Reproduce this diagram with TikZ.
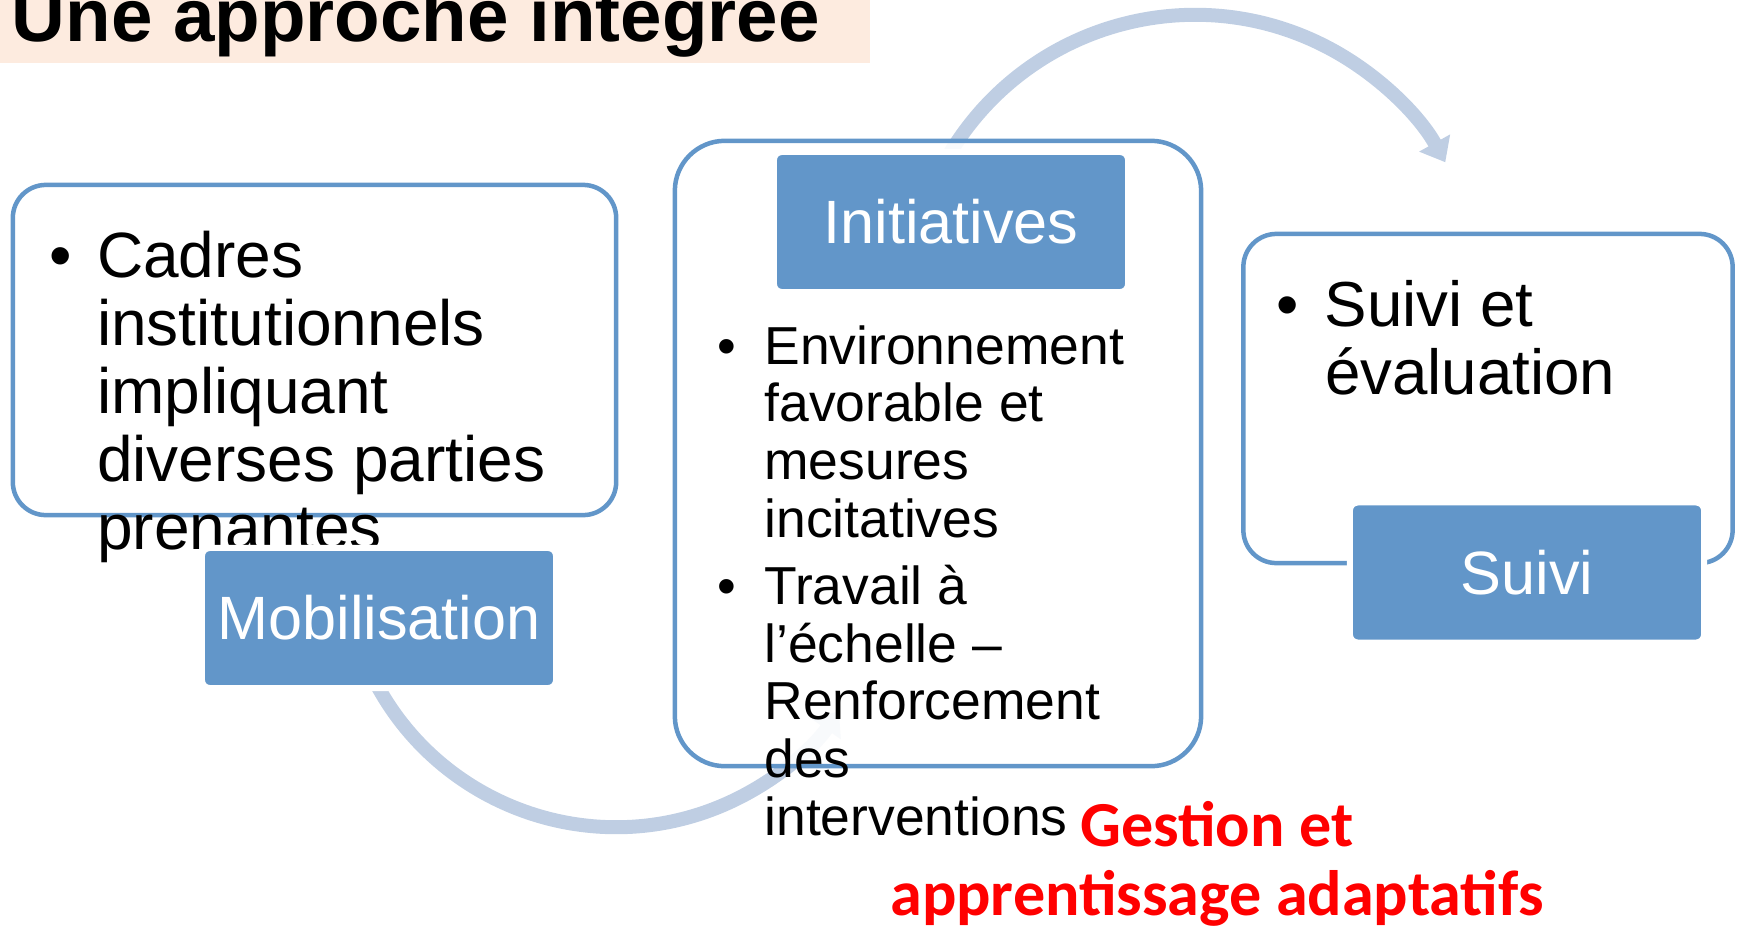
\documentclass[tikz,border=0pt]{standalone}
\usepackage{fontspec}
\setmainfont{Liberation Sans}
\newfontfamily\calib{Carlito}
\usetikzlibrary{arrows.meta}
\definecolor{boxblue}{RGB}{98,150,201}
\definecolor{arcblue}{RGB}{191,206,227}
\definecolor{banner}{RGB}{253,235,223}
\newcommand\blist[2]{\begin{tabular}[t]{@{}l@{\hspace{#1}}l@{}}#2\end{tabular}}
\tikzstyle{panel} = [draw=boxblue,line width=0.45mm,fill=white,fill opacity=0.9,text opacity=1,rounded corners=#1,inner sep=0]
\tikzstyle{badge} = [fill=boxblue,draw=white,line width=0.6mm,rounded corners=0.8mm,minimum width=3.54cm,minimum height=1.40cm,inner sep=0,text=white,font=\fontsize{17.4}{20}\selectfont]
\tikzstyle{list} = [anchor=base west,inner sep=0]
\tikzstyle{cycarrow} = [draw=arcblue,line width=1.4mm,-{Triangle[length=2.2mm,width=3.4mm]}]

\begin{document}
\begin{tikzpicture}[x=0.01cm,y=-0.01cm]
\useasboundingbox (0,0) rectangle (1741,930);
\clip (0,0) rectangle (1741,930);

\fill[banner] (0,0) rectangle (870,63);
\node[anchor=base west,inner sep=0,font=\bfseries\fontsize{21.2}{24}\selectfont] (title) at (11,41) {Une approche intégrée};

% the two round arrows
\coordinate (topc) at (1195,301);
\coordinate (botc) at (616,555);
\draw[cycarrow] (topc) ++(150:2.86cm) arc[start angle=150,end angle=29,radius=2.86cm];
\draw[cycarrow] (botc) ++(-155:2.72cm) arc[start angle=-155,end angle=-35,radius=2.72cm];

\node[panel=3.3mm,minimum width=6.03cm,minimum height=3.30cm] (cadres) at (314.5,350) {};
\node[panel=5mm,minimum width=5.26cm,minimum height=6.25cm] (centre) at (938,453.5) {};
\node[panel=3.3mm,minimum width=4.89cm,minimum height=3.29cm] (eval) at (1488,398.5) {};

\node[list,font=\fontsize{18.2}{19.35}\selectfont] (cadrestxt) at (49,277)
  {\blist{0.25cm}{•&Cadres\\&institutionnels\\&impliquant\\&diverses parties\\&prenantes}};
\node[list,font=\fontsize{15.2}{16.4}\selectfont] (centretxt) at (717,364)
  {\blist{0.28cm}{•&Environnement\\&favorable et\\&mesures\\&incitatives\\[2.8pt]•&Travail à\\&l’échelle –\\&Renforcement\\&des\\&interventions}};
\node[list,font=\fontsize{18.1}{19.35}\selectfont] (evaltxt) at (1276,326)
  {\blist{0.26cm}{•&Suivi et\\&évaluation}};

\node[badge] (mobil) at (379,618) {Mobilisation};
\node[badge] (init) at (951,222) {Initiatives};
\node[badge] (suivi) at (1527,572.5) {Suivi};

\node[anchor=base,inner sep=0,text=red,font=\calib\bfseries\fontsize{18.25}{19.9}\selectfont] (gestion) at (1217,846)
  {\begin{tabular}[t]{@{}c@{}}Gestion et\\apprentissage adaptatifs\end{tabular}};

\end{tikzpicture}
\end{document}
